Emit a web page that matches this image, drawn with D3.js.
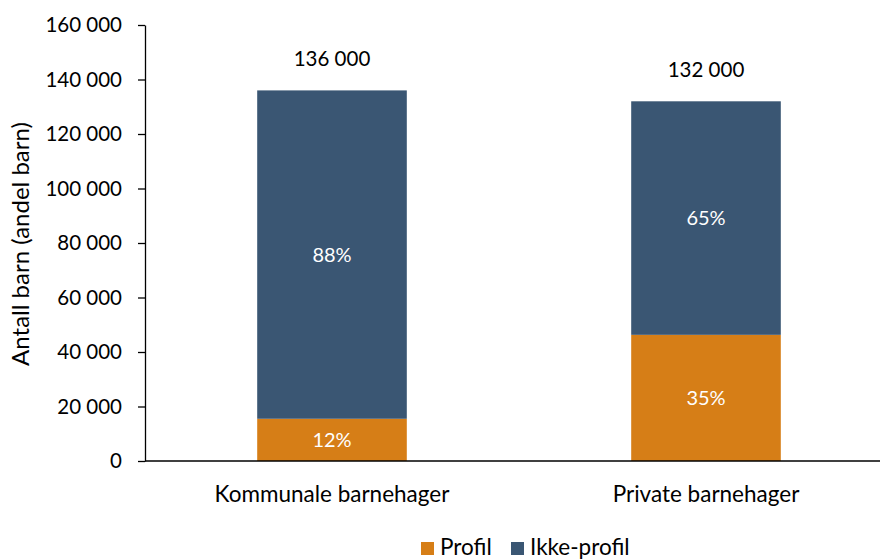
<!DOCTYPE html>
<html>
<head>
<meta charset="utf-8">
<script src="https://cdn.jsdelivr.net/npm/d3@7"></script>
<style>
  body { margin: 0; background: #fff; }
  svg text { font-family: Lato, "Open Sans", sans-serif; }
</style>
</head>
<body>
<div id="chart"></div>
<script>
// Data
const categories = ["Kommunale barnehager", "Private barnehager"];
const profil = [15500, 46300];
const ikkeProfil = [120500, 85700];
const profilPct = ["12%", "35%"];
const ikkePct = ["88%", "65%"];
const totalLabels = ["136 000", "132 000"];
const seriesNames = ["Profil", "Ikke-profil"];
const yTicks = [0, 20000, 40000, 60000, 80000, 100000, 120000, 140000, 160000];

const COLORS = { Profil: "#D67E17", "Ikke-profil": "#3A5673" };

function renderChart(container) {
  const width = 880, height = 560;
  const margin = { left: 145, right: -13, top: 25, bottom: 99 };

  const svg = d3.select(container).append("svg")
    .attr("width", width).attr("height", height);

  const x = d3.scaleBand()
    .domain(categories)
    .range([margin.left, width - margin.right])
    .paddingInner(0.6)
    .paddingOuter(0.3);

  const y = d3.scaleLinear()
    .domain([0, 160000])
    .range([height - margin.bottom, margin.top]);

  const fmt = v => d3.format(",")(v).replace(/,/g, " ");

  // y axis
  const yAxis = svg.append("g")
    .attr("transform", `translate(${margin.left},0)`)
    .call(d3.axisLeft(y).tickValues(yTicks).tickFormat(fmt).tickSize(7).tickSizeOuter(0));
  yAxis.select(".domain").attr("stroke", "#000").attr("stroke-width", 1.3);
  yAxis.selectAll(".tick line").attr("stroke", "#000").attr("stroke-width", 1.3);
  yAxis.selectAll(".tick text")
    .attr("x", -23)
    .style("font-size", "20.5px")
    .attr("fill", "#000");

  // stacked data
  const rows = categories.map((c, i) => ({ cat: c, Profil: profil[i], "Ikke-profil": ikkeProfil[i] }));
  const stacked = d3.stack().keys(seriesNames)(rows);

  const layers = svg.append("g").selectAll("g")
    .data(stacked).join("g")
    .attr("fill", d => COLORS[d.key]);

  layers.selectAll("rect")
    .data(d => d)
    .join("rect")
    .attr("x", d => x(d.data.cat))
    .attr("width", x.bandwidth())
    .attr("y", d => y(d[1]))
    .attr("height", d => y(d[0]) - y(d[1]));

  // percent labels
  const pctLabels = { Profil: profilPct, "Ikke-profil": ikkePct };
  layers.each(function (layer) {
    d3.select(this).selectAll("text")
      .data(layer)
      .join("text")
      .attr("x", d => x(d.data.cat) + x.bandwidth() / 2)
      .attr("y", d => (y(d[0]) + y(d[1])) / 2)
      .attr("dy", "0.36em")
      .attr("text-anchor", "middle")
      .attr("fill", "#fff")
      .style("font-size", "20px")
      .text((d, i) => pctLabels[layer.key][i]);
  });

  // x axis line
  svg.append("line")
    .attr("x1", margin.left).attr("x2", width)
    .attr("y1", y(0)).attr("y2", y(0))
    .attr("stroke", "#000").attr("stroke-width", 1.5);

  // total labels
  svg.append("g").selectAll("text")
    .data(rows)
    .join("text")
    .attr("x", d => x(d.cat) + x.bandwidth() / 2)
    .attr("y", d => y(d.Profil + d["Ikke-profil"]) - 24)
    .attr("text-anchor", "middle")
    .style("font-size", "20.5px")
    .text((d, i) => totalLabels[i]);

  // category labels
  svg.append("g").selectAll("text")
    .data(categories)
    .join("text")
    .attr("x", d => x(d) + x.bandwidth() / 2)
    .attr("y", y(0) + 41)
    .attr("text-anchor", "middle")
    .style("font-size", "22.5px")
    .text(d => d);

  // y title
  svg.append("text")
    .attr("transform", `translate(29,${(margin.top + y(0)) / 2 + 1}) rotate(-90)`)
    .attr("text-anchor", "middle")
    .style("font-size", "24px")
    .text("Antall barn (andel barn)");

  // legend
  const legend = svg.append("g").attr("transform", "translate(421,555)");
  const legendX = [0, 90];
  seriesNames.forEach((name, i) => {
    const g = legend.append("g").attr("transform", `translate(${legendX[i]},0)`);
    g.append("rect").attr("x", 0).attr("y", -13).attr("width", 13).attr("height", 13)
      .attr("fill", COLORS[name]);
    g.append("text").attr("x", 19)
      .style("font-size", "22.5px").text(name);
  });
}

renderChart(document.getElementById("chart"));
</script>
</body>
</html>
